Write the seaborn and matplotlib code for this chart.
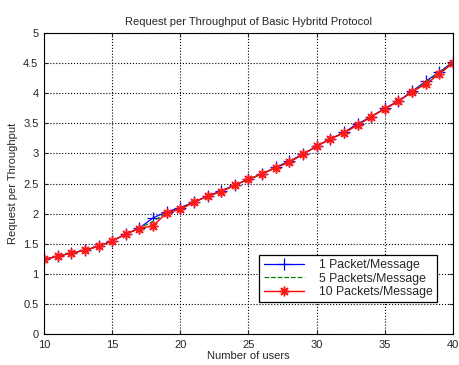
import matplotlib
matplotlib.use("Agg")
import matplotlib.pyplot as plt
import seaborn as sns
import numpy as np
import pandas as pd

users = list(range(10, 41))
one_packet = [1.24, 1.29, 1.345, 1.39, 1.46, 1.545, 1.66, 1.76, 1.93, 2.03, 2.10,
              2.19, 2.29, 2.38, 2.475, 2.57, 2.66, 2.77, 2.87, 2.99, 3.12, 3.24,
              3.35, 3.49, 3.61, 3.75, 3.87, 4.03, 4.20, 4.35, 4.52]
five_packets = [1.24, 1.29, 1.345, 1.39, 1.457, 1.545, 1.66, 1.755, 1.87, 2.02, 2.085,
                2.19, 2.29, 2.37, 2.475, 2.57, 2.66, 2.765, 2.86, 2.985, 3.12, 3.24,
                3.34, 3.475, 3.61, 3.74, 3.865, 4.025, 4.18, 4.34, 4.51]
ten_packets = [1.24, 1.29, 1.345, 1.39, 1.457, 1.545, 1.66, 1.75, 1.80, 2.01, 2.07,
               2.19, 2.29, 2.36, 2.475, 2.57, 2.66, 2.76, 2.855, 2.985, 3.12, 3.24,
               3.34, 3.47, 3.61, 3.74, 3.865, 4.025, 4.15, 4.32, 4.50]
labels = ["1 Packet/Message", "5 Packets/Message", "10 Packets/Message"]

sns.set_style("white")
plt.rcParams['font.family'] = ['Liberation Sans', 'DejaVu Sans']

fig = plt.figure(figsize=(4.59, 3.65), dpi=100)
ax = fig.add_axes([44/459, 1-334/365, (453-44)/459, (334-33)/365])

sns.lineplot(x=users, y=one_packet, ax=ax, color="blue", marker="+", markersize=8,
             markeredgewidth=0.9, markeredgecolor="blue", linewidth=0.9, label=labels[0])
sns.lineplot(x=users, y=five_packets, ax=ax, color="green", linestyle="--",
             linewidth=0.9, label=labels[1])
sns.lineplot(x=users, y=ten_packets, ax=ax, color="red", marker=(8, 2, 0), markersize=7,
             markeredgewidth=1.1, markeredgecolor="#ff1a1a", linewidth=1.0, label=labels[2])

ax.set_xlim(10, 40)
ax.set_ylim(0, 5)
ax.set_xticks(range(10, 41, 5))
ax.set_yticks(np.arange(0, 5.01, 0.5))
ax.set_yticklabels(["0", "0.5", "1", "1.5", "2", "2.5", "3", "3.5", "4", "4.5", "5"])
ax.grid(True, color="black", linestyle=":", linewidth=0.8)
for s in ax.spines.values():
    s.set_visible(True)
    s.set_color("black")
    s.set_linewidth(0.8)
ax.tick_params(direction="in", length=3, labelsize=8, top=True, right=True,
               bottom=True, left=True, pad=4)
ax.set_title("Request per Throughput of Basic Hybritd Protocol", fontsize=8, pad=6)
ax.set_xlabel("Number of users", fontsize=8, labelpad=1)
ax.set_ylabel("Request per Throughput", fontsize=8, labelpad=4)

leg = ax.legend(loc="lower right", bbox_to_anchor=(0.975, 0.085), fontsize=8.8,
                frameon=True, fancybox=False, edgecolor="black", framealpha=1,
                handlelength=3.3, borderpad=0.35, labelspacing=0.12, handletextpad=1.2)
leg.get_frame().set_linewidth(0.9)

fig.savefig("out.png", dpi=100, facecolor="white")
